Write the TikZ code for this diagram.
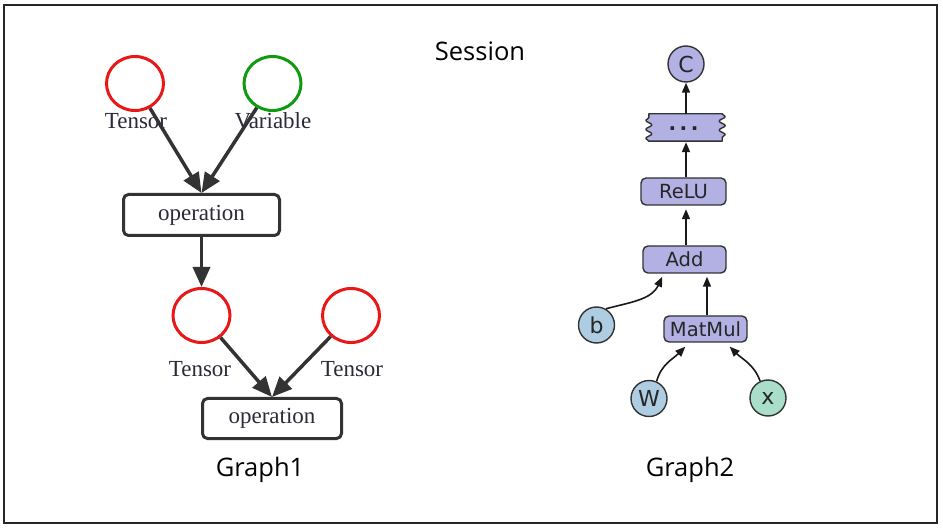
\documentclass[tikz,border=0pt]{standalone}
\usepackage{fontspec}
\setmainfont{Open Sans}
\newfontfamily\dvfont{DejaVu Sans}
\newfontfamily\tmsfont{Liberation Serif}
\usetikzlibrary{arrows.meta,shapes.geometric,decorations.pathmorphing,calc}
\definecolor{lav}{HTML}{B3B1E4}
\definecolor{lblue}{HTML}{AECDE2}
\definecolor{lgreen}{HTML}{A9DECB}
\definecolor{dk}{HTML}{333333}
\definecolor{redc}{HTML}{E81818}
\definecolor{greenc}{HTML}{109A10}
\definecolor{txt}{HTML}{2A2A38}
\tikzset{
  x=1pt,y=-1pt,
  bigtext/.style={font=\fontsize{25.5}{30}\selectfont, text=black},
  g1circ/.style={ellipse, line width=3pt, minimum width=57pt, minimum height=54pt, inner sep=0pt},
  g1lab/.style={font=\tmsfont\fontsize{23}{26}\selectfont, text=txt},
  g1box/.style={draw=dk, line width=3pt, rounded corners=5pt, inner sep=0pt, fill=white,
    font=\tmsfont\fontsize{23}{26}\selectfont, text=txt},
  bigarrow/.style={draw=dk, line width=3.5pt, -{Triangle[length=20pt,width=17pt]}},
  g2box/.style={draw=dk, fill=lav, line width=1.4pt, rounded corners=5pt, inner sep=0pt,
    minimum height=27pt, font=\dvfont\fontsize{19.5}{22}\selectfont, text=black!85},
  g2circ/.style={circle, draw=dk, line width=1.4pt, minimum size=36pt, inner sep=0pt,
    font=\dvfont\fontsize{22}{24}\selectfont, text=black!85},
  smallarrow/.style={draw=black!90, line width=1.6pt, -{Triangle[length=10pt,width=8pt]}},
  wavy/.style={decorate, decoration={snake, amplitude=3pt, segment length=9pt}},
}
\begin{document}
\begin{tikzpicture}
\useasboundingbox (0,0) rectangle (943,529);
\fill[white] (0,0) rectangle (943,529);
\draw[line width=2pt, black!85] (3.5,5) rectangle (936.5,523);

% titles
\node[bigtext] (session) at (480,51) {Session};
\node[bigtext] (graph1) at (260,470) {Graph1};
\node[bigtext] (graph2) at (690,470) {Graph2};

% Graph 1
\node[g1circ, draw=redc] (t1) at (135,83.5) {};
\node[g1circ, draw=greenc] (v1) at (272.5,83.5) {};
\node[g1lab] (t1lab) at (136,121) {Tensor};
\node[g1lab] (v1lab) at (273,121) {Variable};
\node[g1box, minimum width=156pt, minimum height=41pt] (op1) at (201.5,215) {operation};
\node[g1circ, draw=redc] (t2) at (201.5,315.5) {};
\node[g1circ, draw=redc] (t3) at (351,315.5) {};
\node[g1lab] (t2lab) at (200,369) {Tensor};
\node[g1lab] (t3lab) at (352,369) {Tensor};
\node[g1box, minimum width=139pt, minimum height=40pt] (op2) at (272,418.5) {operation};

\draw[bigarrow] (t1) -- (op1.north);
\draw[bigarrow] (v1) -- (op1.north);
\draw[bigarrow] (op1.south) -- (t2.north);
\draw[bigarrow] (t2) -- (op2.north);
\draw[bigarrow] (t3) -- (op2.north);

% Graph 2
\node[g2circ, fill=lav] (c) at (686,64) {C};
\node[inner sep=0pt, minimum width=73pt, minimum height=27pt] (dots) at (685.5,127.5) {};
\path[draw=dk, fill=lav, line width=1.4pt, line join=round]
  (dots.north west) -- (dots.north east)
  decorate[wavy]{ -- (dots.south east)}
  -- (dots.south west)
  decorate[wavy]{ -- (dots.north west)} -- cycle;
\node[font=\dvfont\fontsize{20}{22}\selectfont, text=black!85, inner sep=0pt, anchor=base] (dotstext) at (683.5,131) {\textbf{.\hspace{3.5pt}.\hspace{3.5pt}.}};
\node[g2box, minimum width=85pt] (relu) at (683.5,191.5) {ReLU};
\node[g2box, minimum width=83pt] (add) at (684.5,259.5) {Add};
\node[g2box, minimum width=83pt, minimum height=26pt] (matmul) at (705.5,329) {MatMul};
\node[g2circ, fill=lblue] (b) at (596.5,325) {b};
\node[g2circ, fill=lblue] (w) at (649,398.5) {W};
\node[g2circ, fill=lgreen] (x) at (768,398) {x};

\draw[smallarrow] (dots.north -| c.south) -- (c.south);
\draw[smallarrow, shorten >=1pt] (relu.north -| c.south) -- (dots.south -| c.south);
\draw[smallarrow, shorten >=3.5pt] (add.north -| c.south) -- (relu.south -| c.south);
\draw[smallarrow, shorten >=3pt] ([xshift=1.5pt]matmul.north) -- ([xshift=1.5pt]matmul.north |- add.south);
\draw[smallarrow] (b.60) to[out=15, in=-115] ([xshift=20pt,yshift=-3pt]add.south west);
\draw[smallarrow] (w.66) to[out=75, in=-135] ([xshift=22pt,yshift=-4pt]matmul.south west);
\draw[smallarrow] (x.115) to[out=110, in=-45] ([xshift=-18pt,yshift=-4pt]matmul.south east);
\end{tikzpicture}
\end{document}
